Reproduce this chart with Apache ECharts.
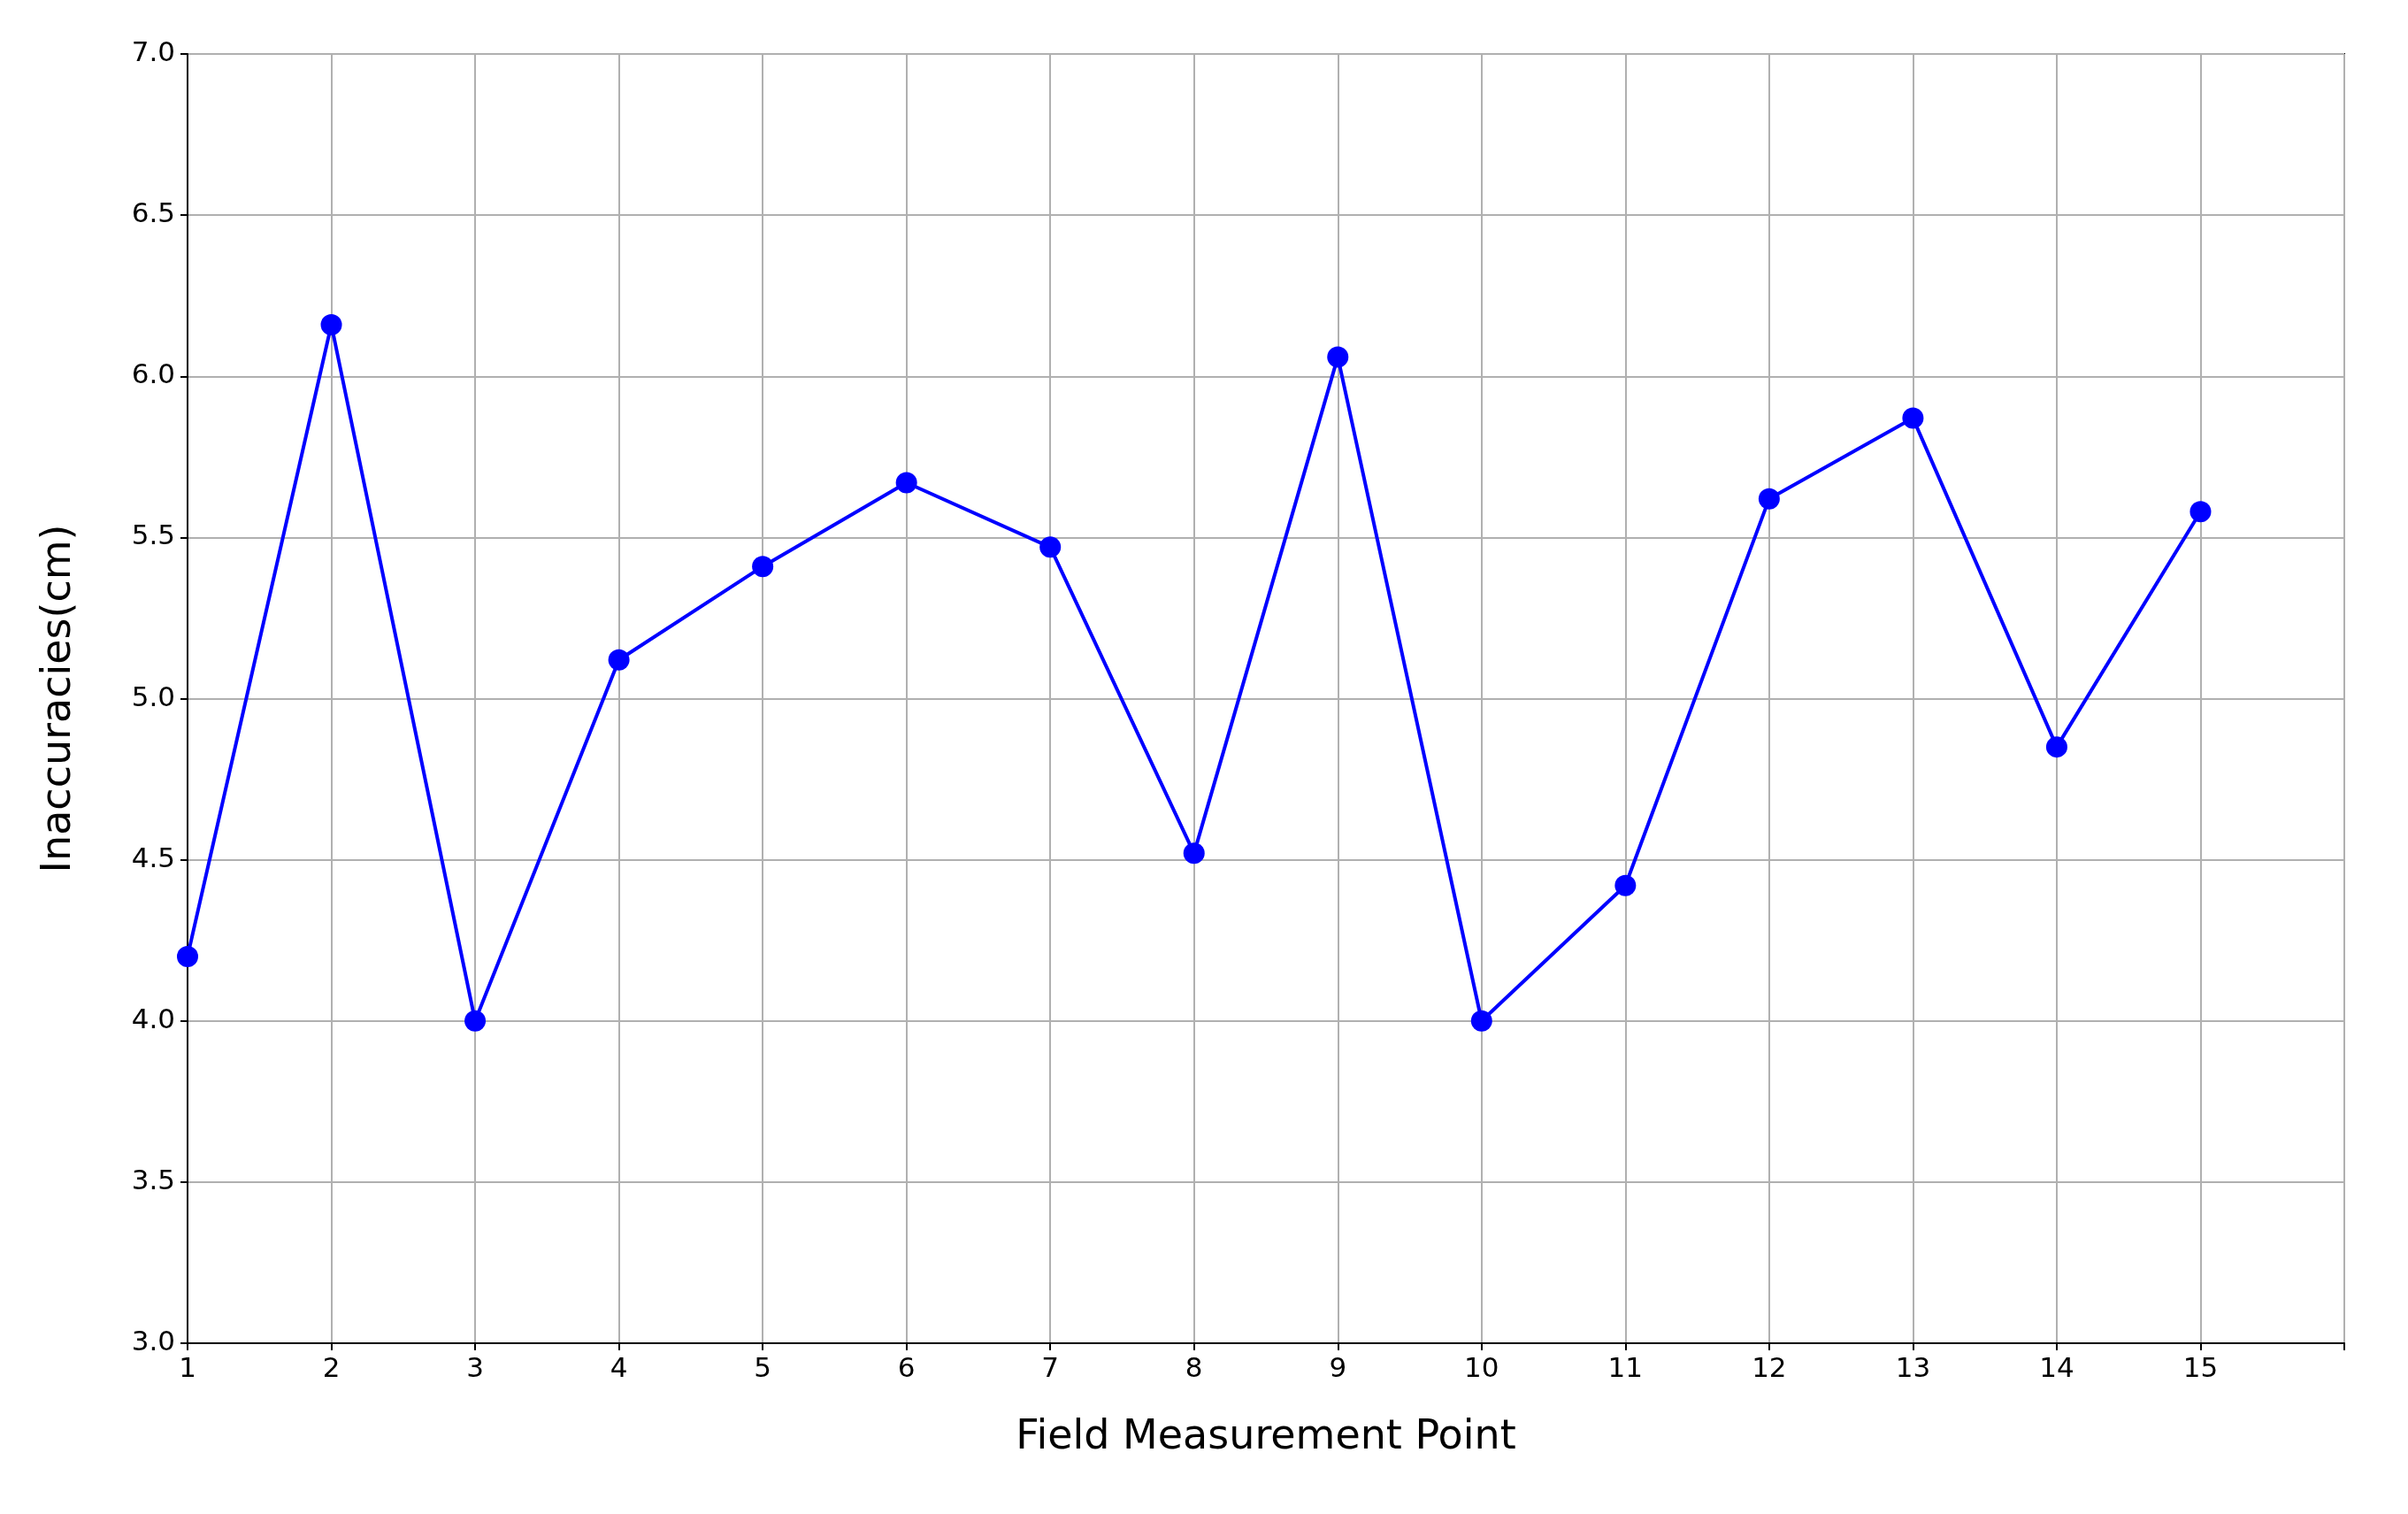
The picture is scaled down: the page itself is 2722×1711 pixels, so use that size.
<!DOCTYPE html>
<html>
<head>
<meta charset="utf-8">
<script src="https://cdn.jsdelivr.net/npm/echarts@6/dist/echarts.min.js"></script>
<style>html,body{margin:0;background:#fff}#main{width:2722px;height:1711px}</style>
</head>
<body>
<div id="main"></div>
<script>
var points = [1, 2, 3, 4, 5, 6, 7, 8, 9, 10, 11, 12, 13, 14, 15];
var inaccuracies = [4.20, 6.16, 4.00, 5.12, 5.41, 5.67, 5.47, 4.52, 6.06, 4.00, 4.42, 5.62, 5.87, 4.85, 5.58];

var chart = echarts.init(document.getElementById('main'));
var font = 'DejaVu Sans';
chart.setOption({
    animation: false,
    grid: {left: 212, right: 72, top: 61, bottom: 193, show: true,
        borderColor: '#000', borderWidth: 2, backgroundColor: 'transparent'},
    xAxis: {
        type: 'value', min: 1, max: 16, interval: 1,
        name: 'Field Measurement Point', nameLocation: 'middle', nameGap: 84,
        nameTextStyle: {fontFamily: font, fontSize: 46, color: '#000'},
        axisLine: {lineStyle: {color: '#000', width: 2}},
        axisTick: {show: true, length: 8, lineStyle: {color: '#000', width: 2}},
        axisLabel: {fontFamily: font, fontSize: 31, color: '#000', margin: 14,
            formatter: function (v) { return v > 15 ? '' : v; }},
        splitLine: {show: true, lineStyle: {color: '#b0b0b0', width: 2}}
    },
    yAxis: {
        type: 'value', min: 3, max: 7, interval: 0.5,
        name: 'Inaccuracies(cm)', nameLocation: 'middle', nameGap: 122,
        nameTextStyle: {fontFamily: font, fontSize: 46, color: '#000'},
        axisLine: {show: true, lineStyle: {color: '#000', width: 2}},
        axisTick: {show: true, length: 8, lineStyle: {color: '#000', width: 2}},
        axisLabel: {fontFamily: font, fontSize: 31, color: '#000', margin: 14,
            formatter: function (v) { return v.toFixed(1); }},
        splitLine: {show: true, lineStyle: {color: '#b0b0b0', width: 2}}
    },
    series: [{
        type: 'line',
        data: points.map(function (p, i) { return [p, inaccuracies[i]]; }),
        symbol: 'circle', symbolSize: 24,
        lineStyle: {color: '#0000ff', width: 4},
        itemStyle: {color: '#0000ff'}
    }]
});
</script>
</body>
</html>
